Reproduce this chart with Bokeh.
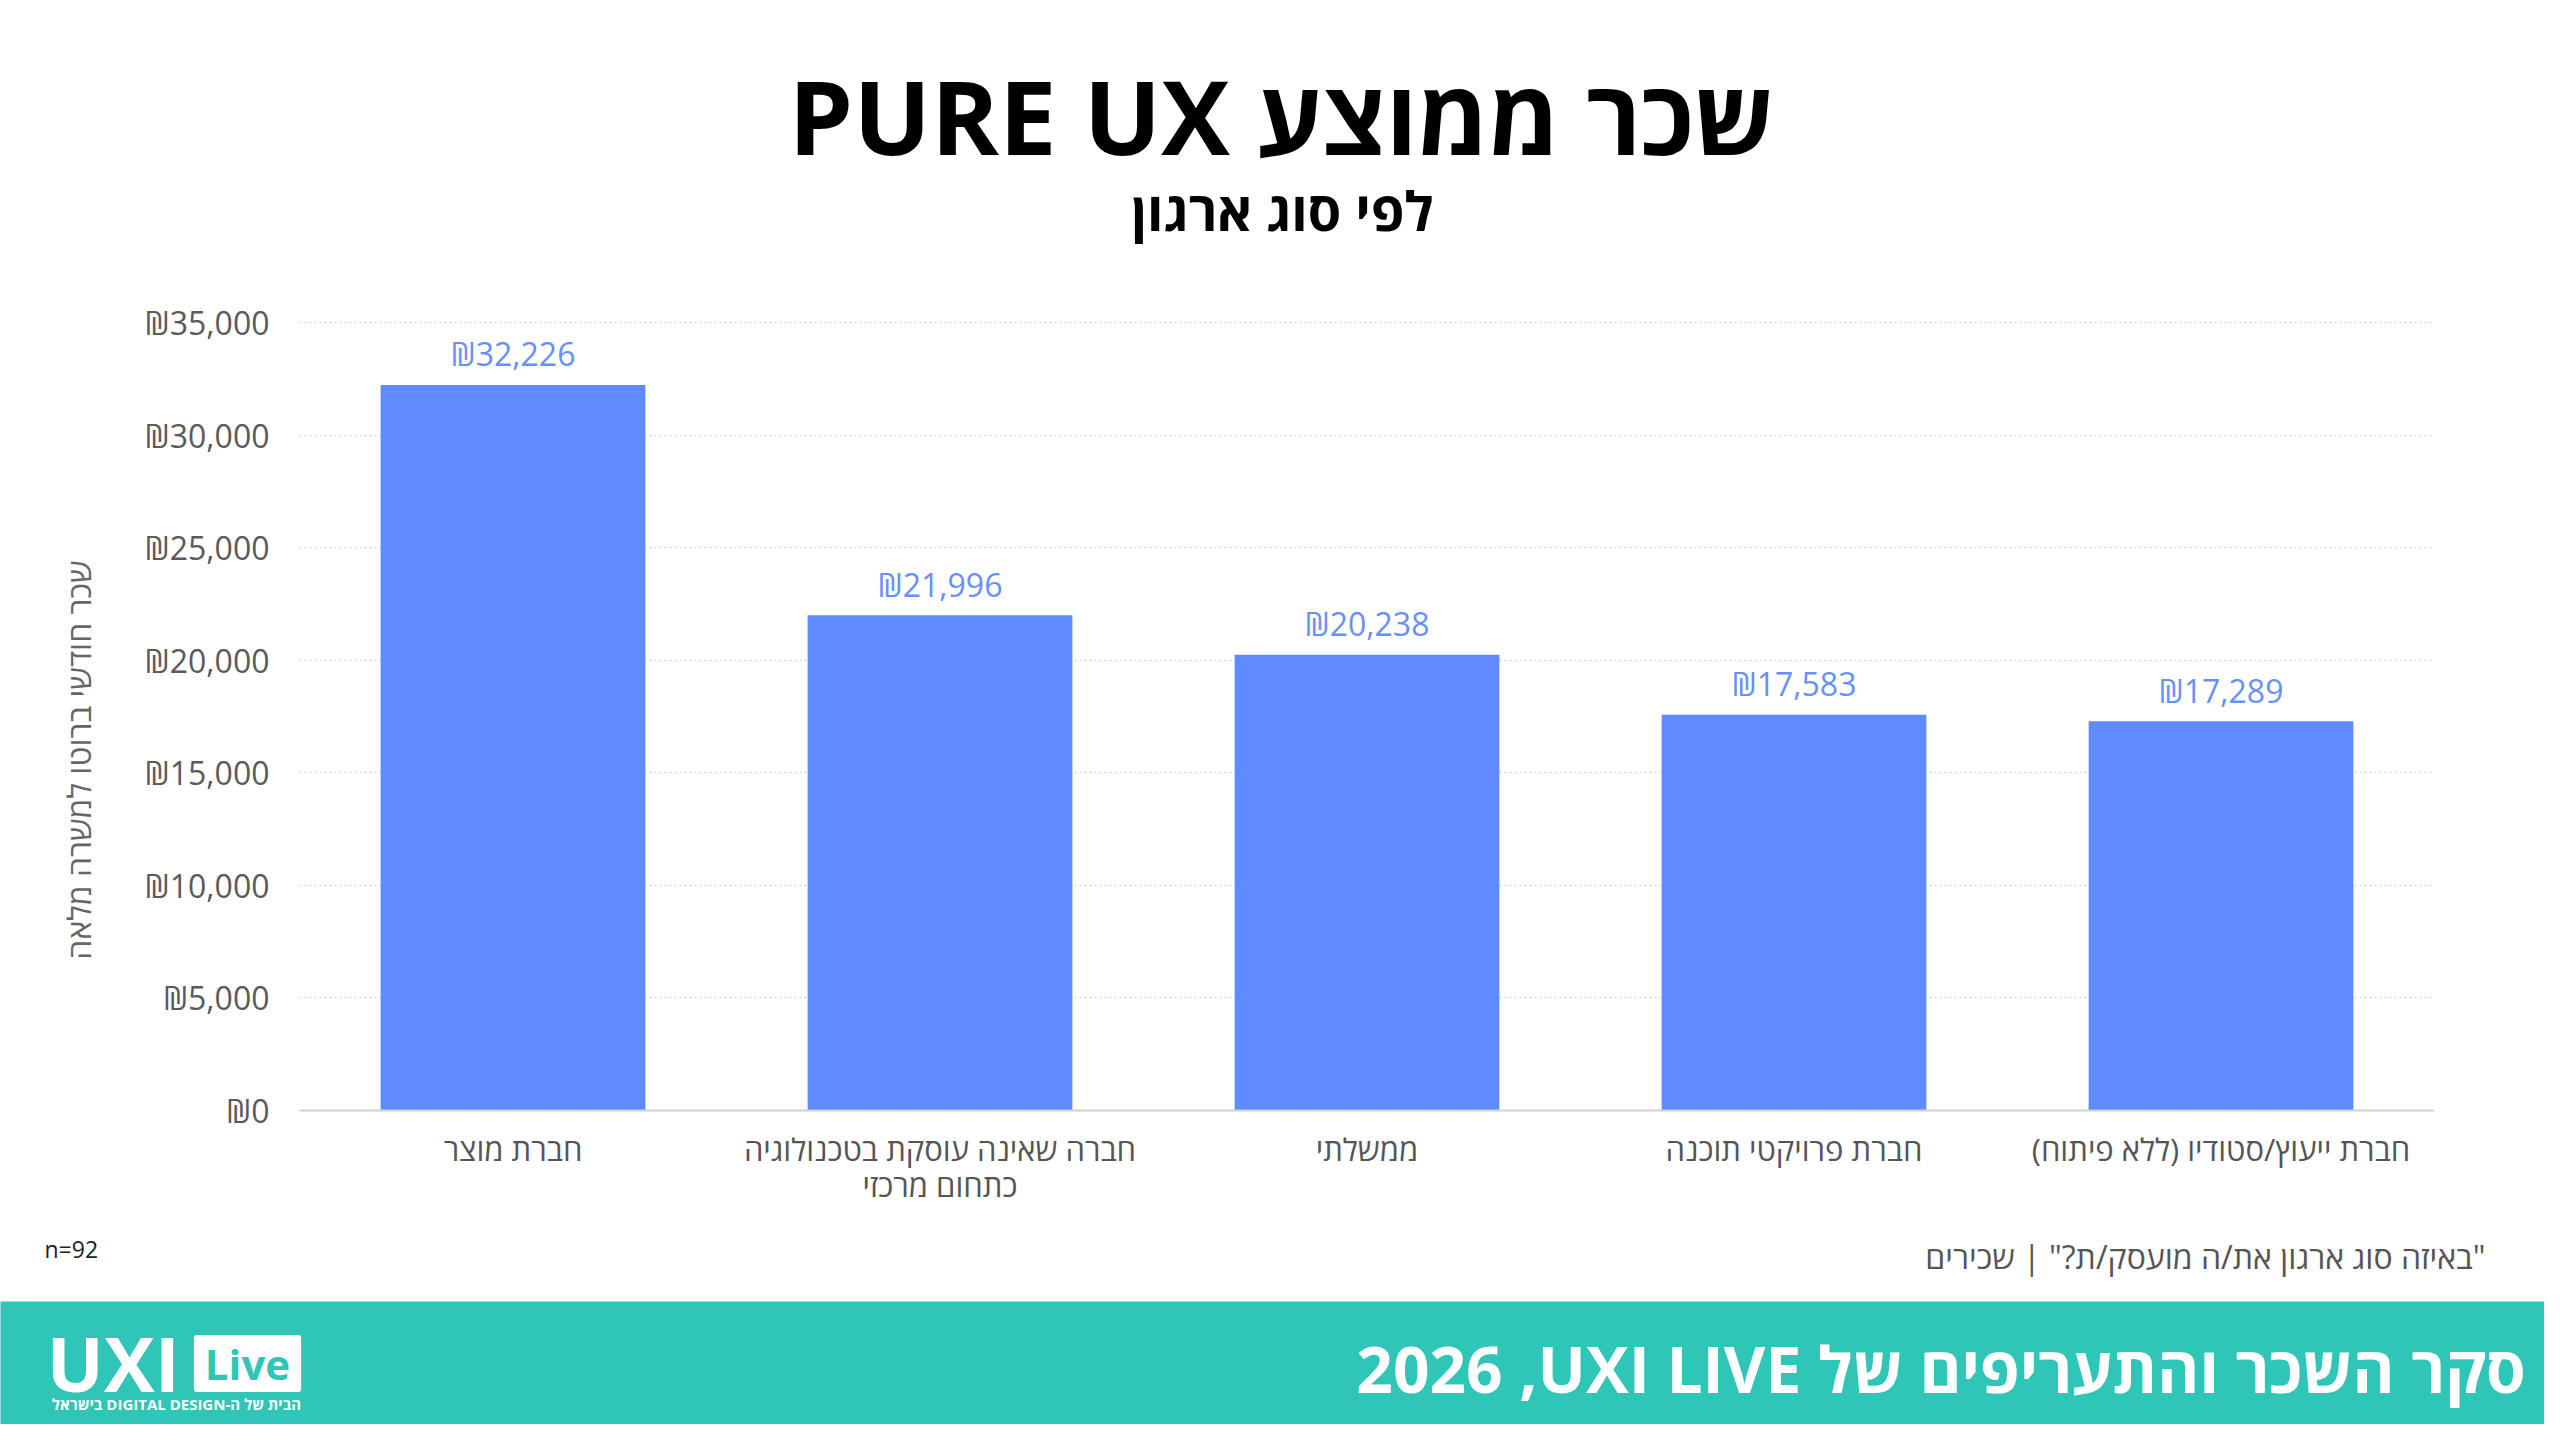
from bokeh.plotting import figure
from bokeh.models import (ColumnDataSource, FactorRange, Range1d, FixedTicker,
                          LabelSet, Label, Span)
from bokeh.layouts import column
from bokeh.core.properties import value
from bokeh.embed import file_html
from bokeh.resources import INLINE

RLE, PDF, RLM = "\u202B", "\u202C", "\u200F"

# ---------------- data ----------------
categories = [
    "חברת מוצר",
    "חברה שאינה עוסקת בטכנולוגיה כתחום מרכזי",
    "ממשלתי",
    "חברת פרויקטי תוכנה",
    "חברת ייעוץ/סטודיו (ללא פיתוח)",
]
label_line1 = [
    "חברת מוצר",
    "חברה שאינה עוסקת בטכנולוגיה",
    "ממשלתי",
    "חברת פרויקטי תוכנה",
    RLE + "חברת ייעוץ/סטודיו (ללא פיתוח)" + PDF,
]
label_line2 = ["", "כתחום מרכזי", "", "", ""]
salaries = [32226, 21996, 20238, 17583, 17289]
value_labels = ["₪32,226", "₪21,996", "₪20,238", "₪17,583", "₪17,289"]
y_ticks = [0, 5000, 10000, 15000, 20000, 25000, 30000, 35000]
y_tick_labels = ["₪0", "₪5,000", "₪10,000", "₪15,000", "₪20,000",
                 "₪25,000", "₪30,000", "₪35,000"]
y_max = 35000

title_text = RLE + "שכר ממוצע PURE UX" + PDF
subtitle_text = "לפי סוג ארגון"
y_title = "שכר חודשי ברוטו למשרה מלאה"
n_text = "n=92"
source_text = RLE + "\"באיזה סוג ארגון את/ה מועסק/ת?\" | שכירים" + PDF
footer_text = RLE + "סקר השכר והתעריפים של UXI LIVE" + RLM + ", 2026" + PDF
logo_small = RLE + "הבית של ה-DIGITAL DESIGN בישראל" + PDF

# ---------------- styles / layout ----------------
FONT = "Open Sans"
BAR = "#5E8BFF"
VAL = "#6790FA"
TEAL = "#2FC5B7"

W = 2544
H_HEAD = 300
H_MAIN = 915
H_NOTE = 86
H_FOOT = 123
ML, MR = 299, 110
PX_PER_UNIT = 788 / y_max
TOP_EXTRA_PX = 18
MT = 22 - TOP_EXTRA_PX
BELOW_ZERO_PX = 105
y_min = -BELOW_ZERO_PX / PX_PER_UNIT
y_top = y_max + TOP_EXTRA_PX / PX_PER_UNIT


def blank(height, bg):
    f = figure(width=W, height=height, output_backend="svg", toolbar_location=None,
               title=None, x_axis_type=None, y_axis_type=None, min_border=0,
               x_range=Range1d(0, W), y_range=Range1d(0, height))
    f.outline_line_color = None
    f.background_fill_color = bg
    f.border_fill_color = bg
    f.xgrid.grid_line_color = None
    f.ygrid.grid_line_color = None
    f.frame_align = False
    return f


def screen_label(fig, x, y_from_top, height, text, size, color, align="center",
                 bold=False, **kw):
    fig.add_layout(Label(x=x, y=height - y_from_top, x_units="screen", y_units="screen",
                         text=text, text_align=align, text_baseline="middle",
                         text_font=FONT, text_font_style="bold" if bold else "normal",
                         text_font_size=size, text_color=color, **kw))


# ---------------- header ----------------
h = blank(H_HEAD, "white")
screen_label(h, 1281, 114, H_HEAD, title_text, "103px", "black", bold=True)
screen_label(h, 1282, 209, H_HEAD, subtitle_text, "54px", "black", bold=True)

# ---------------- main chart ----------------
src = ColumnDataSource(dict(cat=categories, sal=salaries, lab=value_labels,
                            l1=label_line1, l2=label_line2,
                            zero=[0] * len(categories)))

p = figure(x_range=FactorRange(*categories, range_padding=0),
           y_range=Range1d(y_min, y_top),
           width=W, height=H_MAIN, output_backend="svg", toolbar_location=None,
           title=None, min_border_left=ML, min_border_right=MR,
           min_border_top=MT, min_border_bottom=0)
p.frame_align = False
p.outline_line_color = None
p.background_fill_color = "white"
p.border_fill_color = "white"
p.xaxis.visible = False

p.xgrid.grid_line_color = None
p.ygrid.ticker = FixedTicker(ticks=y_ticks)
p.ygrid.grid_line_color = "#d6d6d6"
p.ygrid.grid_line_dash = "2 3"
p.ygrid.grid_line_width = 1.5

p.vbar(x="cat", top="sal", width=0.62, source=src, color=BAR, line_color=None)

p.add_layout(Span(location=0, dimension="width", line_color="#d2d2d2", line_width=2))

p.add_layout(LabelSet(x="cat", y="sal", text="lab", source=src,
                      text_align="center", text_baseline="middle", y_offset=31,
                      text_font=value(FONT), text_font_size="32px",
                      text_color=VAL))
p.add_layout(LabelSet(x="cat", y="zero", text="l1", source=src,
                      text_align="center", text_baseline="middle", y_offset=-38,
                      text_font=value(FONT), text_font_size="31px",
                      text_color="#555555"))
p.add_layout(LabelSet(x="cat", y="zero", text="l2", source=src,
                      text_align="center", text_baseline="middle", y_offset=-74,
                      text_font=value(FONT), text_font_size="31px",
                      text_color="#555555"))

yax = p.yaxis[0]
yax.ticker = FixedTicker(ticks=y_ticks)
yax.major_label_overrides = {t: l for t, l in zip(y_ticks, y_tick_labels)}
yax.axis_line_color = None
yax.major_tick_line_color = None
yax.minor_tick_line_color = None
yax.major_label_standoff = 24
yax.major_label_text_font = FONT
yax.major_label_text_font_size = "32px"
yax.major_label_text_color = "#5a5a5a"
yax.axis_label = y_title
yax.axis_label_text_font = FONT
yax.axis_label_text_font_size = "32px"
yax.axis_label_text_font_style = "normal"
yax.axis_label_text_color = "#666666"
yax.axis_label_standoff = 42

# ---------------- notes ----------------
nt = blank(H_NOTE, "white")
screen_label(nt, 44, 33, H_NOTE, n_text, "23px", "#222222", align="left")
screen_label(nt, 2485, 41, H_NOTE, source_text, "32px", "#555555", align="right")

# ---------------- footer ----------------
f = blank(H_FOOT, TEAL)
screen_label(f, 2525, 67, H_FOOT, footer_text, "64px", "white", align="right", bold=True)
screen_label(f, 46, 61, H_FOOT, "UXI", "76px", "white", align="left", bold=True)
screen_label(f, 247, 62, H_FOOT, "Live", "42px", TEAL, bold=True,
             background_fill_color="white",
             padding=dict(left=11, right=11, top=0, bottom=0), border_radius=3)
screen_label(f, 176, 102, H_FOOT, logo_small, "15px", "white", bold=True)

layout = column(h, p, nt, f, spacing=0)
open("out.html", "w").write(file_html(layout, INLINE))
